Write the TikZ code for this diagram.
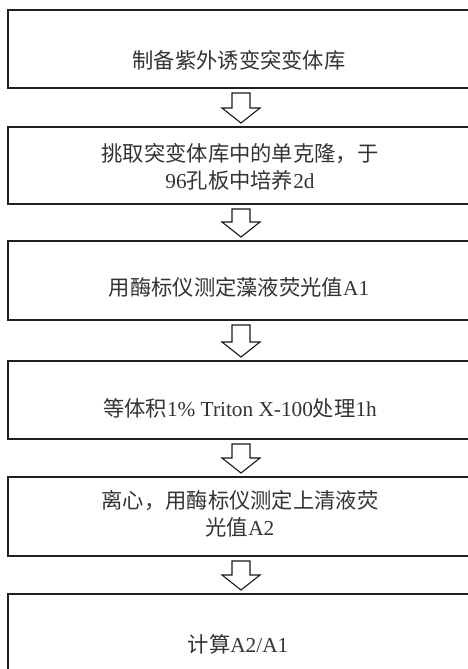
\documentclass[tikz,border=0pt]{standalone}
\usepackage{fontspec}
\setmainfont{Liberation Serif}
\newfontfamily\cjk{Noto Sans CJK SC}
\usetikzlibrary{calc}
\tikzset{
  box/.style={draw=black!88, line width=2pt, rectangle, minimum width=463, minimum height=78, inner sep=0pt, outer sep=0pt},
  txt/.style={text=black!80, font=\fontsize{21.3}{26.5}\selectfont, align=center, inner sep=0pt},
  blockarr/.style={draw=black!90, line width=1.1pt, fill=white, line join=miter}
}
\begin{document}
\begin{tikzpicture}[x=1pt,y=-1pt]
\useasboundingbox (0,0) rectangle (468,669);
\clip (0,0) rectangle (468,669);
\node[box, minimum height=78] (b1) at (239.5,49) {};
\node[box, minimum height=77] (b2) at (239.5,165.5) {};
\node[box, minimum height=79] (b3) at (239.5,280.5) {};
\node[box, minimum height=78] (b4) at (239.5,400) {};
\node[box, minimum height=79] (b5) at (239.5,516.5) {};
\node[box, minimum height=84] (b6) at (239.5,636) {};
\node[txt] (t1) at (239,60) {\cjk 制备紫外诱变突变体库};
\node[txt] (t2) at (240,167) {{\cjk 挑取突变体库中的单克隆，于}\\96{\cjk 孔板中培养}2d};
\node[txt] (t3) at (239,287) {{\cjk 用酶标仪测定藻液荧光值}A1};
\node[txt] (t4) at (240,408) {{\cjk 等体积}1\% Triton X-100{\cjk 处理}1h};
\node[txt] (t5) at (240,514) {{\cjk 离心，用酶标仪测定上清液荧}\\{\cjk 光值}A2};
\node[txt] (t6) at (238,644) {{\cjk 计算}A2/A1};
\foreach \a/\b in {b1/b2,b2/b3,b3/b4,b4/b5,b5/b6}{
  \path (\a.south) ++(1.5,5) coordinate (s);
  \path (\b.north) ++(1.5,-4) coordinate (t);
  \draw[blockarr] ($(s)+(-9,0)$) -- ($(t)+(-9,-15)$) -- ($(t)+(-19,-15)$) -- (t)
    -- ($(t)+(19,-15)$) -- ($(t)+(9,-15)$) -- ($(s)+(9,0)$) -- cycle;
}
\end{tikzpicture}
\end{document}
